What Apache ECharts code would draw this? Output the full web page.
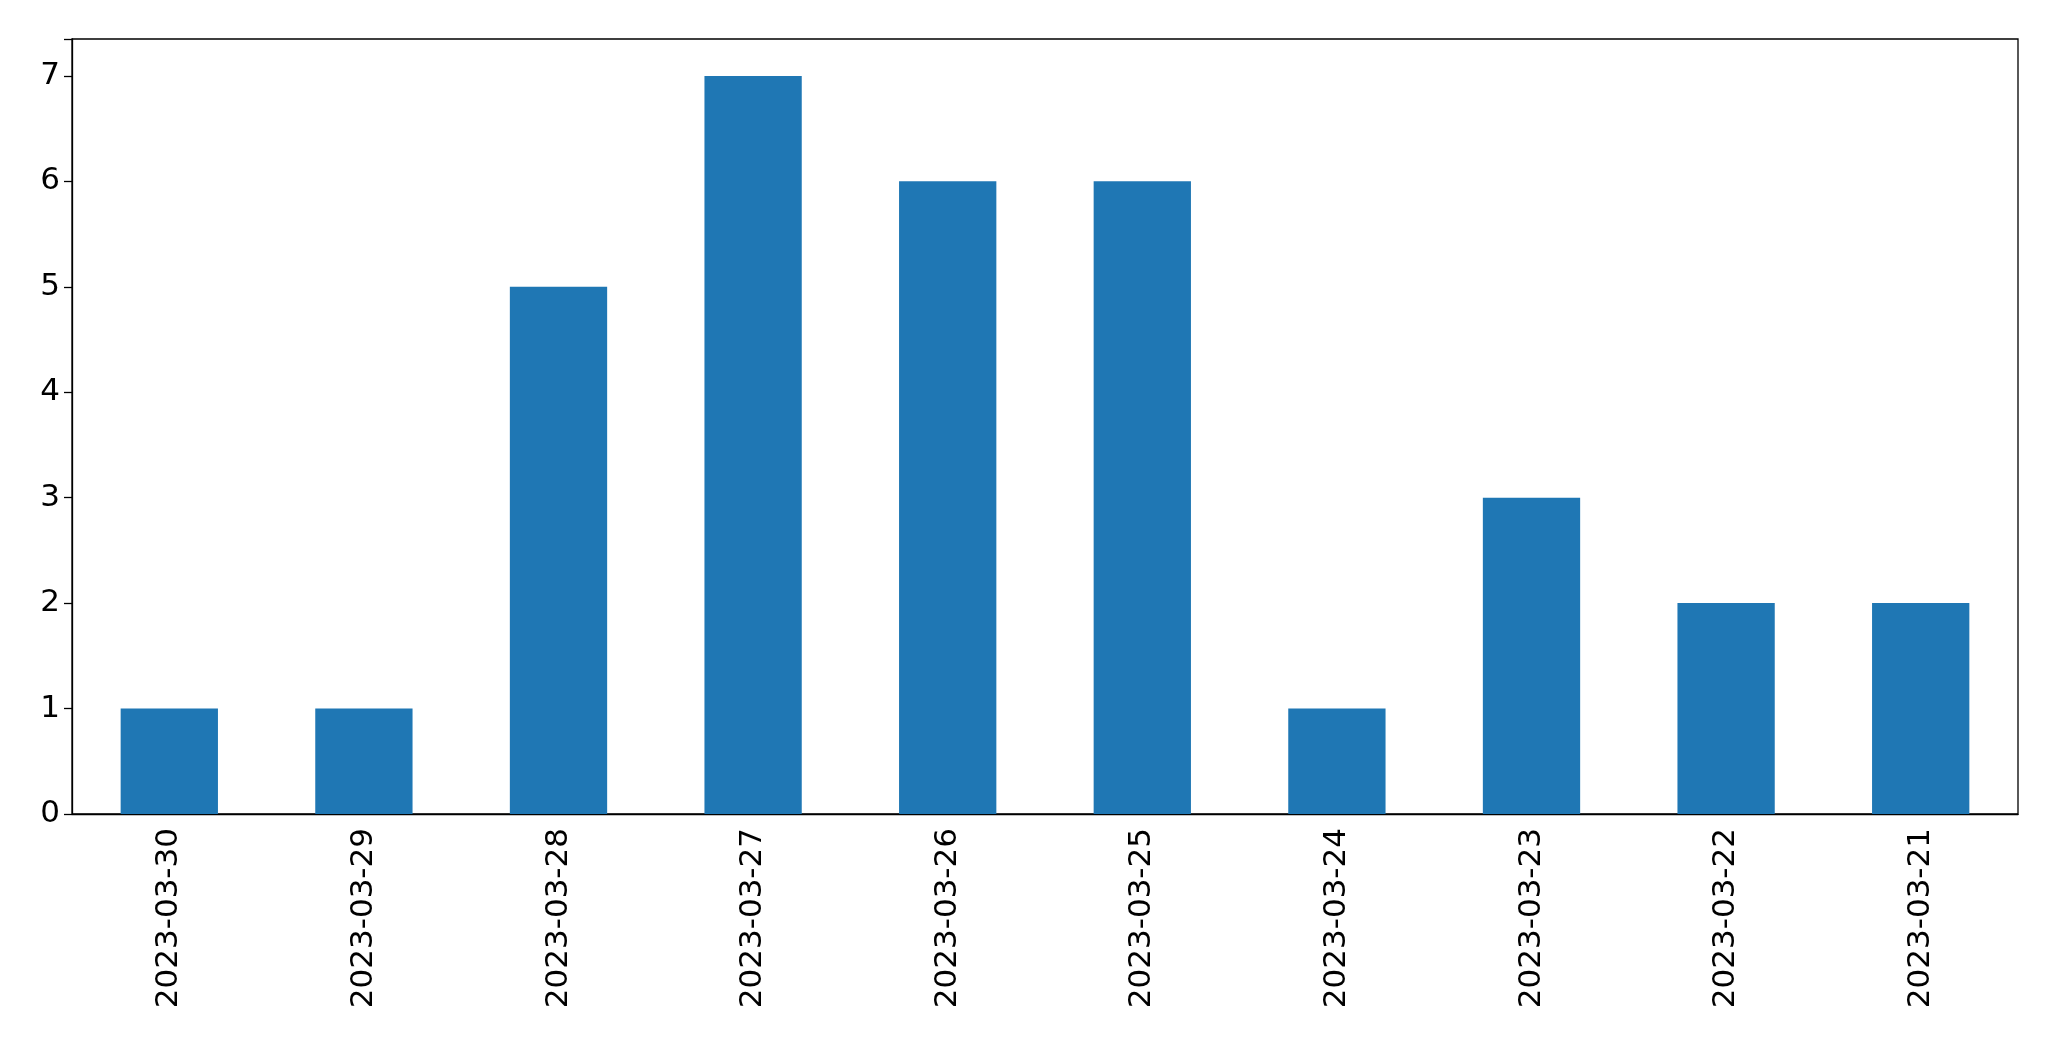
<!DOCTYPE html>
<html><head><meta charset="utf-8">
<script src="https://cdn.jsdelivr.net/npm/echarts@6/dist/echarts.min.js"></script>
<style>html,body{margin:0;padding:0;background:#fff}#c{width:2049px;height:1061px}</style>
</head><body><div id="c"></div>
<script>
const categories = ["2023-03-30","2023-03-29","2023-03-28","2023-03-27","2023-03-26","2023-03-25","2023-03-24","2023-03-23","2023-03-22","2023-03-21"];
const values = [1,1,5,7,6,6,1,3,2,2];
const yTicks = [0,1,2,3,4,5,6,7];
const chart = echarts.init(document.getElementById('c'));
const font = {fontFamily:'DejaVu Sans', fontSize:31, color:'#000'};
chart.setOption({
  animation:false,
  grid:{left:72,right:31,top:39,bottom:247,show:true,borderColor:'#000',borderWidth:1.3},
  xAxis:{type:'category',data:categories,
    axisLine:{lineStyle:{color:'#000',width:1.3}},
    axisTick:{alignWithLabel:true,length:8,lineStyle:{color:'#000',width:1.3}},
    axisLabel:Object.assign({rotate:90,margin:14},font)},
  yAxis:{type:'value',min:0,max:7.35,interval:1,
    axisLine:{show:true,lineStyle:{color:'#000',width:1.3}},
    axisTick:{show:true,length:8,lineStyle:{color:'#000',width:1.3}},
    splitLine:{show:false},
    axisLabel:Object.assign({margin:12,formatter:v=>yTicks.includes(v)?String(v):''},font)},
  series:[{type:'bar',data:values,barCategoryGap:'50%',itemStyle:{color:'#1f77b4'}}]
});
</script></body></html>
